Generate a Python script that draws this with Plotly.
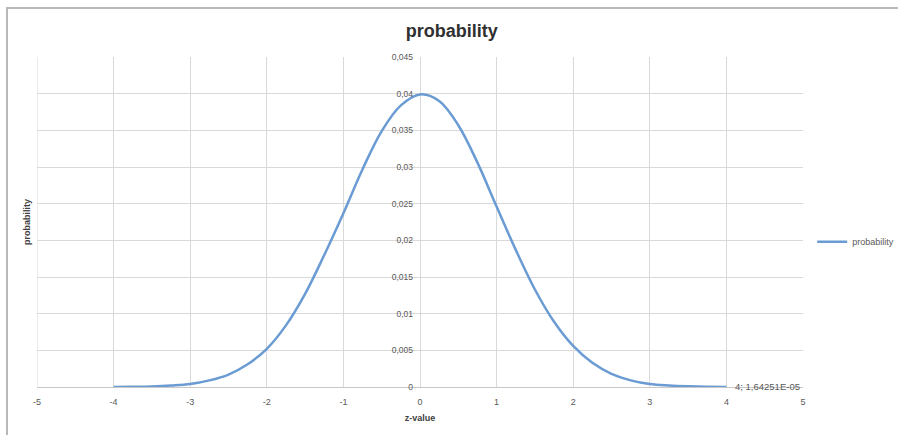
import plotly.graph_objects as go

z_values = [-4, -3.75, -3.5, -3.25, -3, -2.75, -2.5, -2.25, -2, -1.75, -1.5, -1.25, -1,
            -0.75, -0.5, -0.25, 0, 0.25, 0.5, 0.75, 1, 1.25, 1.5, 1.75, 2, 2.25, 2.5,
            2.75, 3, 3.25, 3.5, 3.75, 4]
probability = [0.0000164, 0.00003, 0.00008, 0.0002, 0.0004, 0.0009, 0.0017, 0.0031, 0.0052,
               0.0084, 0.0127, 0.0180, 0.0237, 0.0297, 0.0349, 0.0384, 0.0399, 0.0390,
               0.0357, 0.0306, 0.0246, 0.0187, 0.0133, 0.0089, 0.0056, 0.0033, 0.0018,
               0.0009, 0.0004, 0.0002, 0.00009, 0.00003, 0.0000164]
x_tick_vals = [-5, -4, -3, -2, -1, 0, 1, 2, 3, 4, 5]
x_tick_text = ["-5", "-4", "-3", "-2", "-1", "0", "1", "2", "3", "4", "5"]
last_label = "4; 1,64251E-05"

fig = go.Figure()
fig.add_trace(go.Scatter(
    x=z_values, y=probability, mode="lines", name="probability",
    line=dict(color="#6a9bd3", width=2.5, shape="spline", smoothing=1.0),
))

fig.add_annotation(x=z_values[-1], y=probability[-1], text=last_label, showarrow=False,
                   xanchor="left", yanchor="middle", xshift=7,
                   font=dict(size=9.5, color="#595959", family="Liberation Sans"))

fig.add_shape(type="rect", xref="paper", yref="paper",
              x0=-0.0392, x1=1.2, y0=-0.3, y1=1.1485,
              line=dict(color="#b8b8b8", width=2), layer="below")

fig.update_layout(
    width=898, height=435,
    margin=dict(l=37, r=95, t=57, b=48, autoexpand=False),
    paper_bgcolor="white", plot_bgcolor="white",
    separators=", ",
    title=dict(text="<b>probability</b>", x=0.503, xanchor="center", y=0.93, yanchor="middle",
               font=dict(size=18, color="#303030", family="Liberation Sans")),
    showlegend=True,
    legend=dict(x=1.012, y=0.44, xanchor="left", yanchor="middle",
                font=dict(size=9, color="#595959", family="Liberation Sans"),
                bgcolor="rgba(0,0,0,0)", itemwidth=30),
    xaxis=dict(range=[-5, 5], tickvals=x_tick_vals, ticktext=x_tick_text,
               showgrid=True, gridcolor="#d9d9d9", gridwidth=1,
               zeroline=False, showline=True, linecolor="#c8c8c8", mirror=False,
               ticklabelstandoff=6,
               tickfont=dict(size=9, color="#595959", family="Liberation Sans"),
               title=dict(text="<b>z-value</b>", standoff=8,
                          font=dict(size=9, color="#404040", family="Liberation Sans"))),
    yaxis=dict(range=[0, 0.045], dtick=0.005, showgrid=True, gridcolor="#d9d9d9", gridwidth=1,
               zeroline=False, showline=False, anchor="free", position=0.5,
               tickformat="~g", ticklabelstandoff=7,
               tickfont=dict(size=8.5, color="#595959", family="Liberation Sans")),
)
fig.add_annotation(xref="paper", yref="paper", x=-0.0131, y=0.5, text="<b>probability</b>",
                   showarrow=False, textangle=-90, xanchor="center", yanchor="middle",
                   font=dict(size=9, color="#404040", family="Liberation Sans"))
fig.add_shape(type="line", xref="x", yref="paper", x0=-5, x1=-5, y0=0, y1=1,
              line=dict(color="#d9d9d9", width=1), layer="below")

fig.write_html("out.html")
